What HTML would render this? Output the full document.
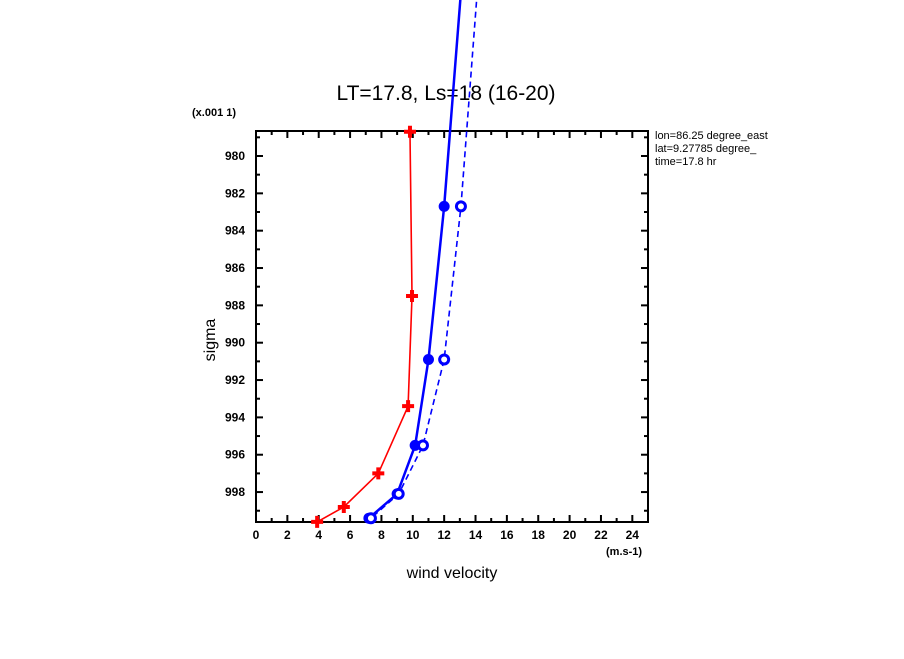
<!DOCTYPE html>
<html><head><meta charset="utf-8"><style>
body{margin:0;background:#fff;width:904px;height:654px;overflow:hidden;font-family:"Liberation Sans",sans-serif}
svg text{font-family:"Liberation Sans",sans-serif}
</style></head><body>
<svg id="chart" width="904" height="654" viewBox="0 0 904 654" xmlns="http://www.w3.org/2000/svg">
<text x="446" y="100" font-size="21" text-anchor="middle">LT=17.8, Ls=18 (16-20)</text>
<text x="192" y="116" font-size="11" font-weight="bold">(x.001 1)</text>
<text transform="translate(215,340) rotate(-90)" font-size="16" text-anchor="middle">sigma</text>
<text x="452" y="578" font-size="16" text-anchor="middle">wind velocity</text>
<text x="606" y="555" font-size="11" font-weight="bold">(m.s-1)</text>
<g font-size="11">
<text x="655" y="139">lon=86.25 degree_east</text>
<text x="655" y="152">lat=9.27785 degree_</text>
<text x="655" y="165">time=17.8 hr</text>
</g>
<rect x="779" y="128" width="125" height="42" fill="#fff"/>
<g id="axes"></g>
<g id="series"></g>
</svg>
<script>
const xTicks=[0,2,4,6,8,10,12,14,16,18,20,22,24];
const yTicks=[980,982,984,986,988,990,992,994,996,998];
const redX=[9.82,9.95,9.7,7.8,5.6,3.9];
const redS=[978.7,987.5,993.4,997.0,998.8,999.6];
const blueX=[13.37,12.0,11.0,10.15,9.0,7.2];
const blueS=[968,982.7,990.9,995.5,998.1,999.4];
const dashX=[14.4,13.07,12.0,10.65,9.1,7.33];
const dashS=[968,982.7,990.9,995.5,998.1,999.4];
const NS="http://www.w3.org/2000/svg";
const L=256,R=648,T=131,B=522;
const sx=v=>L+v*(R-L)/25;
const sy=s=>156+(s-980)*18.67;
function mk(tag,parent){const e=document.createElementNS(NS,tag);parent.appendChild(e);return e;}
const axes=document.getElementById('axes'),ser=document.getElementById('series');
const frame=mk('rect',axes);


frame.setAttribute('x',L);frame.setAttribute('y',T);frame.setAttribute('width',R-L);frame.setAttribute('height',B-T);
frame.setAttribute('fill','none');frame.setAttribute('stroke','#000');frame.setAttribute('stroke-width','2');
for(let v=0;v<=25;v++){const big=v%2===0;const x=sx(v);
 [[B,B-(big?7:4)],[T,T+(big?7:4)]].forEach(p=>{const t=mk('line',axes);
 
 
 t.setAttribute('x1',x);t.setAttribute('x2',x);t.setAttribute('y1',p[0]);t.setAttribute('y2',p[1]);t.setAttribute('stroke','#000');t.setAttribute('stroke-width','2');});}
xTicks.forEach(v=>{const t=mk('text',axes);
 
 
 t.setAttribute('x',sx(v));t.setAttribute('y',B+17);t.setAttribute('font-size','12');t.setAttribute('font-weight','bold');t.setAttribute('text-anchor','middle');t.textContent=v;});
for(let s=979;s<=999;s++){const big=s%2===0;const y=sy(s);
 [[L,L+(big?7:4)],[R,R-(big?7:4)]].forEach(p=>{const t=mk('line',axes);
 
 
 t.setAttribute('x1',p[0]);t.setAttribute('x2',p[1]);t.setAttribute('y1',y);t.setAttribute('y2',y);t.setAttribute('stroke','#000');t.setAttribute('stroke-width','2');});}
yTicks.forEach(s=>{const t=mk('text',axes);
 
 
 t.setAttribute('x',L-11);t.setAttribute('y',sy(s)+4);t.setAttribute('font-size','12');t.setAttribute('font-weight','bold');t.setAttribute('text-anchor','end');t.textContent=s;});
function line(xs,ss,color,w,dash,name){const p=mk('polyline',ser);
 
 
 p.setAttribute('points',xs.map((v,i)=>sx(v)+','+sy(ss[i])).join(' '));
 p.setAttribute('fill','none');p.setAttribute('stroke',color);p.setAttribute('stroke-width',w);if(dash)p.setAttribute('stroke-dasharray',dash);}
line(redX,redS,'#f00',1.6,null,'red-line');
line(blueX,blueS,'#00f',2.5,null,'blue-solid-line');
line(dashX,dashS,'#00f',1.6,'6,4','blue-dashed-line');
redX.forEach((v,i)=>{const g=mk('path',ser);
 
 
 const x=sx(v),y=sy(redS[i]);
 g.setAttribute('d',`M${x-6},${y}H${x+6}M${x},${y-6}V${y+6}`);g.setAttribute('stroke','#f00');g.setAttribute('stroke-width','4');});
blueX.forEach((v,i)=>{if(blueS[i]<978.6)return;const c=mk('circle',ser);
 
 
 c.setAttribute('cx',sx(v));c.setAttribute('cy',sy(blueS[i]));c.setAttribute('r','5.5');c.setAttribute('fill','#00f');});
dashX.forEach((v,i)=>{if(dashS[i]<978.6)return;const c=mk('circle',ser);
 
 
 c.setAttribute('cx',sx(v));c.setAttribute('cy',sy(dashS[i]));c.setAttribute('r','4.5');c.setAttribute('fill','#fff');c.setAttribute('stroke','#00f');c.setAttribute('stroke-width','3');});
</script>
</body></html>
